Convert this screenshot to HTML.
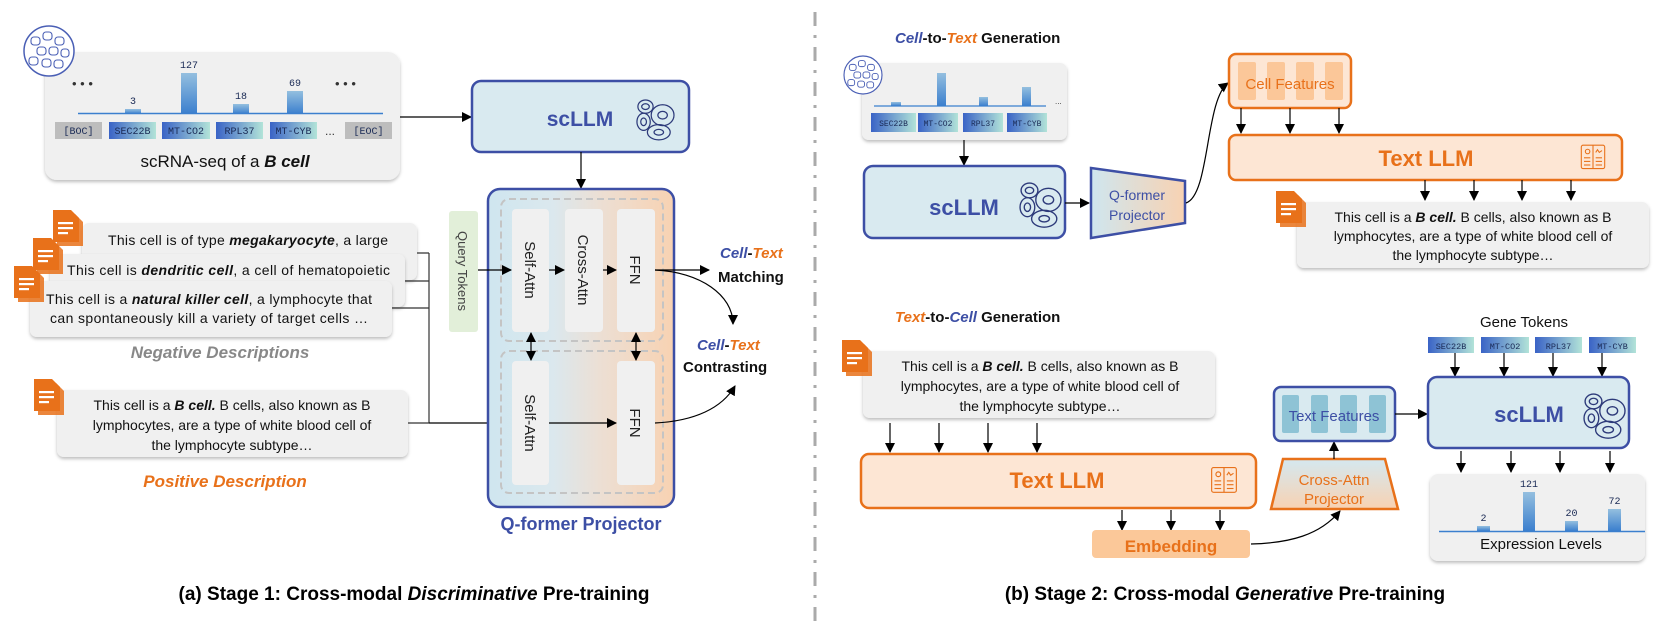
<!DOCTYPE html>
<html><head><meta charset="utf-8"><style>
html,body{margin:0;padding:0;background:#fff;}
svg{display:block;}
text{font-family:"Liberation Sans",Arial,sans-serif;}
.m{font-family:"Liberation Mono","DejaVu Sans Mono",monospace;font-size:10px;fill:#1a2a55;}
.b{font-size:14px;fill:#111;}
</style></head><body>
<svg width="1660" height="632" viewBox="0 0 1660 632" xmlns="http://www.w3.org/2000/svg">
<defs>
<linearGradient id="tok" x1="0" x2="1"><stop offset="0" stop-color="#3a63c6"/><stop offset="1" stop-color="#b2e3d8"/></linearGradient>
<linearGradient id="bar" x1="0" y1="0" x2="0" y2="1"><stop offset="0" stop-color="#94bfdf"/><stop offset="1" stop-color="#3b7fce"/></linearGradient>
<linearGradient id="qf" x1="0" x2="1"><stop offset="0" stop-color="#cfe6ef"/><stop offset="0.35" stop-color="#dbe8ee"/><stop offset="0.6" stop-color="#ecdfd4"/><stop offset="1" stop-color="#f8d2b2"/></linearGradient>
<linearGradient id="qp" x1="0" x2="1"><stop offset="0" stop-color="#cfe6ef"/><stop offset="1" stop-color="#f8d2b2"/></linearGradient>
<linearGradient id="ca" x1="0" y1="0" x2="0" y2="1"><stop offset="0" stop-color="#d4e8f0"/><stop offset="1" stop-color="#f8d2b2"/></linearGradient>
<marker id="ah" markerWidth="10" markerHeight="10" refX="9" refY="5" orient="auto" markerUnits="userSpaceOnUse"><path d="M0,0 L10,5 L0,10 z" fill="#000"/></marker>
<marker id="ah2" markerWidth="10" markerHeight="10" refX="9" refY="5" orient="auto-start-reverse" markerUnits="userSpaceOnUse"><path d="M0,0 L10,5 L0,10 z" fill="#000"/></marker>
<filter id="sh" x="-5%" y="-5%" width="110%" height="120%"><feDropShadow dx="0" dy="2" stdDeviation="1.5" flood-color="#000" flood-opacity="0.25"/></filter>
<g id="doc"><path d="M4,4 h18 l8,8 v24 h-26 z" fill="#e8711a" opacity="0.85"/><path d="M0,0 h18 l8,8 v24 h-26 z" fill="#e8711a"/><rect x="5" y="12" width="15" height="2.2" fill="#fff"/><rect x="5" y="17" width="15" height="2.2" fill="#fff"/><rect x="5" y="22" width="10" height="2.2" fill="#fff"/></g>
<g id="cells" fill="none" stroke="#2d3a7a" stroke-width="1.3"><ellipse cx="-10" cy="-12" rx="8" ry="7"/><ellipse cx="-10" cy="-12" rx="4" ry="3"/><ellipse cx="8" cy="-3" rx="12" ry="11"/><ellipse cx="8" cy="-3" rx="5" ry="4"/><ellipse cx="-12" cy="4" rx="7" ry="9"/><ellipse cx="-12" cy="4" rx="3" ry="4"/><ellipse cx="4" cy="15" rx="12" ry="8"/><ellipse cx="4" cy="15" rx="5" ry="3"/></g>
<g id="book" fill="none" stroke="#e8711a" stroke-width="1.2"><rect x="-13" y="-12" width="26" height="26" rx="2"/><line x1="0" y1="-12" x2="0" y2="14"/><line x1="-10" y1="2" x2="-3" y2="2"/><line x1="-10" y1="6" x2="-3" y2="6"/><line x1="-10" y1="10" x2="-3" y2="10"/><line x1="3" y1="2" x2="10" y2="2"/><line x1="3" y1="6" x2="10" y2="6"/><line x1="3" y1="10" x2="10" y2="10"/><circle cx="-6" cy="-5" r="2.5"/><path d="M3,-4 l2,-3 l2,3 l3,-2"/></g>
</defs>

<!-- ================= LEFT PANEL ================= -->
<rect x="45" y="52" width="355" height="128" rx="12" fill="#f0f0f0" filter="url(#sh)"/>
<g transform="translate(49,51)">
<circle r="25" fill="#fff" stroke="#4a5fb5" stroke-width="1.5"/>
<g fill="none" stroke="#4a5fb5" stroke-width="1.1">
<rect x="-18" y="-14" width="9" height="8" rx="3"/><rect x="-6" y="-19" width="9" height="8" rx="3"/><rect x="6" y="-14" width="9" height="8" rx="3"/><rect x="-12" y="-4" width="9" height="8" rx="3"/><rect x="0" y="-4" width="9" height="8" rx="3"/><rect x="12" y="-2" width="8" height="8" rx="3"/><rect x="-20" y="6" width="9" height="8" rx="3"/><rect x="-7" y="8" width="9" height="8" rx="3"/><rect x="5" y="9" width="9" height="8" rx="3"/>
</g></g>
<text x="72" y="88" font-size="13" fill="#333">• • •</text>
<text x="335" y="88" font-size="13" fill="#333">• • •</text>
<rect x="125" y="109" width="16" height="5" fill="url(#bar)"/><text x="133" y="104" class="m" text-anchor="middle" fill="#222">3</text>
<rect x="181" y="73" width="16" height="41" fill="url(#bar)"/><text x="189" y="68" class="m" text-anchor="middle" fill="#222">127</text>
<rect x="233" y="104" width="16" height="10" fill="url(#bar)"/><text x="241" y="99" class="m" text-anchor="middle" fill="#222">18</text>
<rect x="287" y="91" width="16" height="23" fill="url(#bar)"/><text x="295" y="86" class="m" text-anchor="middle" fill="#222">69</text>
<line x1="78" y1="113.5" x2="383" y2="113.5" stroke="#3b7fce" stroke-width="1.5"/>
<rect x="55" y="122" width="47" height="17" fill="#bdbdbd"/><text x="78.5" y="134" class="m" text-anchor="middle" fill="#333">[BOC]</text>
<rect x="109" y="122" width="47" height="17" fill="url(#tok)"/><text x="132.5" y="134" class="m" text-anchor="middle">SEC22B</text>
<rect x="162" y="122" width="48" height="17" fill="url(#tok)"/><text x="186" y="134" class="m" text-anchor="middle">MT-CO2</text>
<rect x="216" y="122" width="47" height="17" fill="url(#tok)"/><text x="239.5" y="134" class="m" text-anchor="middle">RPL37</text>
<rect x="270" y="122" width="47" height="17" fill="url(#tok)"/><text x="293.5" y="134" class="m" text-anchor="middle">MT-CYB</text>
<text x="325" y="135" font-size="12" fill="#333">...</text>
<rect x="345" y="122" width="47" height="17" fill="#bdbdbd"/><text x="368.5" y="134" class="m" text-anchor="middle" fill="#333">[EOC]</text>
<text x="225" y="167" font-size="17" text-anchor="middle" fill="#111">scRNA-seq of a <tspan font-weight="bold" font-style="italic">B cell</tspan></text>

<line x1="400" y1="117" x2="471" y2="117" stroke="#000" stroke-width="1.2" marker-end="url(#ah)"/>
<rect x="472" y="81" width="217" height="71" rx="9" fill="#d9eaf0" stroke="#3d4fa5" stroke-width="2.5"/>
<text x="580" y="126" font-size="21" font-weight="bold" fill="#3d4fa5" text-anchor="middle">scLLM</text>
<use href="#cells" transform="translate(655,118) scale(0.95)"/>
<line x1="581" y1="152" x2="581" y2="188" stroke="#000" stroke-width="1.2" marker-end="url(#ah)"/>

<rect x="82" y="223" width="335" height="57" rx="7" fill="#f0f0f0" filter="url(#sh)"/>
<text x="108" y="245" class="b" textLength="280">This cell is of type <tspan font-weight="bold" font-style="italic">megakaryocyte</tspan>, a large</text>
<use href="#doc" transform="translate(53,210)"/>
<rect x="50" y="254" width="355" height="53" rx="7" fill="#f0f0f0" filter="url(#sh)"/>
<text x="67" y="275" class="b" textLength="323">This cell is  <tspan font-weight="bold" font-style="italic">dendritic cell</tspan>, a cell of hematopoietic</text>
<use href="#doc" transform="translate(33,238)"/>
<rect x="30" y="281" width="362" height="56" rx="7" fill="#f0f0f0" filter="url(#sh)"/>
<text x="46" y="304" class="b" textLength="326">This cell is a <tspan font-weight="bold" font-style="italic">natural killer cell</tspan>, a lymphocyte that</text>
<text x="50" y="323" class="b" textLength="318">can spontaneously kill a variety of target cells …</text>
<use href="#doc" transform="translate(14,266)"/>
<text x="220" y="358" font-size="17" font-weight="bold" font-style="italic" fill="#888" text-anchor="middle">Negative Descriptions</text>

<rect x="57" y="390" width="351" height="67" rx="7" fill="#f0f0f0" filter="url(#sh)"/>
<text x="232" y="410" class="b" text-anchor="middle">This cell is a <tspan font-weight="bold" font-style="italic">B cell.</tspan> B cells, also known as B</text>
<text x="232" y="430" class="b" text-anchor="middle">lymphocytes, are a type of white blood cell of</text>
<text x="232" y="450" class="b" text-anchor="middle">the lymphocyte subtype…</text>
<use href="#doc" transform="translate(34,379)"/>
<text x="225" y="487" font-size="17" font-weight="bold" font-style="italic" fill="#e8711a" text-anchor="middle">Positive Description</text>

<g stroke="#333" stroke-width="1.2" fill="none">
<path d="M417,253 H429 M405,281 H429 M392,308 H429 M429,253 V423 M408,423 H429"/>
</g>
<line x1="429" y1="423" x2="511" y2="423" stroke="#000" stroke-width="1.2" marker-end="url(#ah)"/>

<rect x="449" y="211" width="29" height="121" rx="3" fill="#e2efd9"/>
<text transform="translate(458,271) rotate(90)" font-size="13" fill="#444" text-anchor="middle">Query Tokens</text>
<rect x="488" y="189" width="186" height="318" rx="12" fill="url(#qf)" stroke="#3d4fa5" stroke-width="2.5"/>
<rect x="501" y="199" width="162" height="142" rx="8" fill="none" stroke="#c4c4c4" stroke-width="2" stroke-dasharray="7,4"/>
<rect x="501" y="351" width="162" height="142" rx="8" fill="none" stroke="#c4c4c4" stroke-width="2" stroke-dasharray="7,4"/>
<g fill="#f0f0f0">
<rect x="512" y="209" width="37" height="123" rx="4"/><rect x="565" y="209" width="38" height="123" rx="4"/><rect x="617" y="209" width="38" height="123" rx="4"/>
<rect x="512" y="361" width="37" height="124" rx="4"/><rect x="617" y="361" width="38" height="124" rx="4"/>
</g>
<g font-size="15" fill="#222" text-anchor="middle">
<text transform="translate(525,270) rotate(90)">Self-Attn</text>
<text transform="translate(578,270) rotate(90)">Cross-Attn</text>
<text transform="translate(630,270) rotate(90)">FFN</text>
<text transform="translate(525,423) rotate(90)">Self-Attn</text>
<text transform="translate(630,423) rotate(90)">FFN</text>
</g>
<g stroke="#000" stroke-width="1.2" fill="none">
<line x1="478" y1="270" x2="511" y2="270" marker-end="url(#ah)"/>
<line x1="549" y1="270" x2="564" y2="270" marker-end="url(#ah)"/>
<line x1="603" y1="270" x2="616" y2="270" marker-end="url(#ah)"/>
<line x1="549" y1="423" x2="616" y2="423" marker-end="url(#ah)"/>
<line x1="531" y1="333" x2="531" y2="360" marker-start="url(#ah2)" marker-end="url(#ah2)"/>
<line x1="636" y1="333" x2="636" y2="360" marker-start="url(#ah2)" marker-end="url(#ah2)"/>
<line x1="655" y1="270" x2="709" y2="270" marker-end="url(#ah)"/>
<path d="M655,270 C700,272 733,295 733,324" marker-end="url(#ah)"/>
<path d="M655,423 C695,421 722,408 735,386" marker-end="url(#ah)"/>
</g>
<g font-size="15" font-weight="bold">
<text x="720" y="258"><tspan fill="#3d4fa5" font-style="italic">Cell</tspan><tspan fill="#111">-</tspan><tspan fill="#e8711a" font-style="italic">Text</tspan></text>
<text x="718" y="282" fill="#111">Matching</text>
<text x="697" y="350"><tspan fill="#3d4fa5" font-style="italic">Cell</tspan><tspan fill="#111">-</tspan><tspan fill="#e8711a" font-style="italic">Text</tspan></text>
<text x="683" y="372" fill="#111">Contrasting</text>
</g>
<text x="581" y="530" font-size="18" font-weight="bold" fill="#3d4fa5" text-anchor="middle">Q-former Projector</text>
<text x="414" y="600" font-size="19" font-weight="bold" fill="#000" text-anchor="middle">(a) Stage 1: Cross-modal <tspan font-style="italic">Discriminative</tspan> Pre-training</text>

<line x1="815" y1="12" x2="815" y2="625" stroke="#aaa" stroke-width="3" stroke-dasharray="14,9,3,9"/>

<!-- ================= RIGHT TOP ================= -->
<text x="895" y="43" font-size="15" font-weight="bold"><tspan fill="#3d4fa5" font-style="italic">Cell</tspan><tspan fill="#111">-to-</tspan><tspan fill="#e8711a" font-style="italic">Text</tspan><tspan fill="#111"> Generation</tspan></text>
<rect x="862" y="63" width="205" height="77" rx="7" fill="#f0f0f0" filter="url(#sh)"/>
<g transform="translate(863,75) scale(0.76)">
<circle r="25" fill="#fff" stroke="#4a5fb5" stroke-width="1.5"/>
<g fill="none" stroke="#4a5fb5" stroke-width="1.2">
<rect x="-18" y="-14" width="9" height="8" rx="3"/><rect x="-6" y="-19" width="9" height="8" rx="3"/><rect x="6" y="-14" width="9" height="8" rx="3"/><rect x="-12" y="-4" width="9" height="8" rx="3"/><rect x="0" y="-4" width="9" height="8" rx="3"/><rect x="12" y="-2" width="8" height="8" rx="3"/><rect x="-20" y="6" width="9" height="8" rx="3"/><rect x="-7" y="8" width="9" height="8" rx="3"/><rect x="5" y="9" width="9" height="8" rx="3"/>
</g></g>
<rect x="891" y="102" width="10" height="4" fill="url(#bar)"/>
<rect x="937" y="73" width="9" height="33" fill="url(#bar)"/>
<rect x="979" y="97" width="9" height="9" fill="url(#bar)"/>
<rect x="1022" y="87" width="9" height="19" fill="url(#bar)"/>
<line x1="874" y1="106" x2="1046" y2="106" stroke="#3b7fce" stroke-width="1.3"/>
<text x="1055" y="104" font-size="8" fill="#333">...</text>
<rect x="871" y="113" width="45" height="19" fill="url(#tok)"/><text x="893.5" y="126" class="m" style="font-size:8px" text-anchor="middle">SEC22B</text>
<rect x="918" y="113" width="40" height="19" fill="url(#tok)"/><text x="938" y="126" class="m" style="font-size:8px" text-anchor="middle">MT-CO2</text>
<rect x="963" y="113" width="40" height="19" fill="url(#tok)"/><text x="983" y="126" class="m" style="font-size:8px" text-anchor="middle">RPL37</text>
<rect x="1007" y="113" width="40" height="19" fill="url(#tok)"/><text x="1027" y="126" class="m" style="font-size:8px" text-anchor="middle">MT-CYB</text>
<line x1="964" y1="140" x2="964" y2="165" stroke="#000" stroke-width="1.2" marker-end="url(#ah)"/>
<rect x="864" y="166" width="201" height="72" rx="9" fill="#d9eaf0" stroke="#3d4fa5" stroke-width="2.5"/>
<text x="964" y="215" font-size="22" font-weight="bold" fill="#3d4fa5" text-anchor="middle">scLLM</text>
<use href="#cells" transform="translate(1040,203) scale(1.05)"/>
<line x1="1065" y1="203" x2="1089" y2="203" stroke="#000" stroke-width="1.2" marker-end="url(#ah)"/>
<path d="M1091,168 L1185,181 L1185,223 L1091,238 Z" fill="url(#qp)" stroke="#3d4fa5" stroke-width="2.5"/>
<text x="1137" y="200" font-size="14" fill="#3d4fa5" text-anchor="middle">Q-former</text>
<text x="1137" y="220" font-size="14" fill="#3d4fa5" text-anchor="middle">Projector</text>
<path d="M1186,203 C1210,195 1205,100 1228,83" fill="none" stroke="#000" stroke-width="1.2" marker-end="url(#ah)"/>

<rect x="1229" y="54" width="122" height="54" rx="7" fill="#fde6d4" stroke="#e8711a" stroke-width="2.5"/>
<g fill="#fbc799"><rect x="1238" y="62" width="18" height="38" rx="2"/><rect x="1267" y="62" width="18" height="38" rx="2"/><rect x="1296" y="62" width="18" height="38" rx="2"/><rect x="1325" y="62" width="18" height="38" rx="2"/></g>
<text x="1290" y="89" font-size="15" fill="#e8711a" text-anchor="middle">Cell Features</text>
<g stroke="#000" stroke-width="1.2">
<line x1="1241" y1="108" x2="1241" y2="133" marker-end="url(#ah)"/>
<line x1="1290" y1="108" x2="1290" y2="133" marker-end="url(#ah)"/>
<line x1="1339" y1="108" x2="1339" y2="133" marker-end="url(#ah)"/>
</g>
<rect x="1229" y="135" width="393" height="45" rx="7" fill="#fde6d4" stroke="#e8711a" stroke-width="2.5"/>
<text x="1426" y="166" font-size="22" font-weight="bold" fill="#e8711a" text-anchor="middle">Text LLM</text>
<use href="#book" transform="translate(1593,156) scale(0.9)"/>
<g stroke="#000" stroke-width="1.2">
<line x1="1425" y1="180" x2="1425" y2="200" marker-end="url(#ah)"/>
<line x1="1474" y1="180" x2="1474" y2="200" marker-end="url(#ah)"/>
<line x1="1522" y1="180" x2="1522" y2="200" marker-end="url(#ah)"/>
<line x1="1571" y1="180" x2="1571" y2="200" marker-end="url(#ah)"/>
</g>
<rect x="1297" y="202" width="352" height="66" rx="7" fill="#f0f0f0" filter="url(#sh)"/>
<text x="1473" y="222" class="b" text-anchor="middle">This cell is a <tspan font-weight="bold" font-style="italic">B cell.</tspan> B cells, also known as B</text>
<text x="1473" y="241" class="b" text-anchor="middle">lymphocytes, are a type of white blood cell of</text>
<text x="1473" y="260" class="b" text-anchor="middle">the lymphocyte subtype…</text>
<use href="#doc" transform="translate(1276,191)"/>

<!-- ================= RIGHT BOTTOM ================= -->
<text x="895" y="322" font-size="15" font-weight="bold"><tspan fill="#e8711a" font-style="italic">Text</tspan><tspan fill="#111">-to-</tspan><tspan fill="#3d4fa5" font-style="italic">Cell</tspan><tspan fill="#111"> Generation</tspan></text>
<rect x="863" y="351" width="352" height="67" rx="7" fill="#f0f0f0" filter="url(#sh)"/>
<text x="1040" y="371" class="b" text-anchor="middle">This cell is a <tspan font-weight="bold" font-style="italic">B cell.</tspan> B cells, also known as B</text>
<text x="1040" y="391" class="b" text-anchor="middle">lymphocytes, are a type of white blood cell of</text>
<text x="1040" y="411" class="b" text-anchor="middle">the lymphocyte subtype…</text>
<use href="#doc" transform="translate(842,340)"/>
<g stroke="#000" stroke-width="1.2">
<line x1="890" y1="423" x2="890" y2="452" marker-end="url(#ah)"/>
<line x1="939" y1="423" x2="939" y2="452" marker-end="url(#ah)"/>
<line x1="988" y1="423" x2="988" y2="452" marker-end="url(#ah)"/>
<line x1="1037" y1="423" x2="1037" y2="452" marker-end="url(#ah)"/>
</g>
<rect x="861" y="454" width="395" height="54" rx="8" fill="#fde6d4" stroke="#e8711a" stroke-width="2.5"/>
<text x="1057" y="488" font-size="22" font-weight="bold" fill="#e8711a" text-anchor="middle">Text LLM</text>
<use href="#book" transform="translate(1224,479) scale(0.95)"/>
<g stroke="#000" stroke-width="1.2">
<line x1="1122" y1="510" x2="1122" y2="530" marker-end="url(#ah)"/>
<line x1="1171" y1="510" x2="1171" y2="530" marker-end="url(#ah)"/>
<line x1="1220" y1="510" x2="1220" y2="530" marker-end="url(#ah)"/>
</g>
<rect x="1092" y="530" width="158" height="28" rx="4" fill="#fbc899"/>
<text x="1171" y="552" font-size="17" font-weight="bold" fill="#e8711a" text-anchor="middle">Embedding</text>
<path d="M1251,544 C1290,543 1320,535 1340,511" fill="none" stroke="#000" stroke-width="1.2" marker-end="url(#ah)"/>
<path d="M1283,459 L1385,459 L1398,509 L1271,509 Z" fill="url(#ca)" stroke="#e8711a" stroke-width="2.5"/>
<text x="1334" y="485" font-size="15" fill="#e8711a" text-anchor="middle">Cross-Attn</text>
<text x="1334" y="504" font-size="15" fill="#e8711a" text-anchor="middle">Projector</text>
<line x1="1334" y1="459" x2="1334" y2="442" stroke="#000" stroke-width="1.2" marker-end="url(#ah)"/>
<rect x="1274" y="387" width="121" height="54" rx="7" fill="#d9eaf0" stroke="#3d4fa5" stroke-width="2.5"/>
<g fill="#8ec3d5"><rect x="1282" y="395" width="17" height="38" rx="2"/><rect x="1311" y="395" width="17" height="38" rx="2"/><rect x="1340" y="395" width="17" height="38" rx="2"/><rect x="1369" y="395" width="17" height="38" rx="2"/></g>
<text x="1334" y="421" font-size="15" fill="#3d4fa5" text-anchor="middle">Text Features</text>
<line x1="1395" y1="414" x2="1427" y2="414" stroke="#000" stroke-width="1.2" marker-end="url(#ah)"/>

<text x="1524" y="327" font-size="15" fill="#111" text-anchor="middle">Gene Tokens</text>
<rect x="1428" y="337" width="46" height="16" fill="url(#tok)"/><text x="1451" y="349" class="m" style="font-size:8.5px" text-anchor="middle">SEC22B</text>
<rect x="1481" y="337" width="48" height="16" fill="url(#tok)"/><text x="1505" y="349" class="m" style="font-size:8.5px" text-anchor="middle">MT-CO2</text>
<rect x="1535" y="337" width="47" height="16" fill="url(#tok)"/><text x="1558.5" y="349" class="m" style="font-size:8.5px" text-anchor="middle">RPL37</text>
<rect x="1589" y="337" width="47" height="16" fill="url(#tok)"/><text x="1612.5" y="349" class="m" style="font-size:8.5px" text-anchor="middle">MT-CYB</text>
<g stroke="#000" stroke-width="1.2">
<line x1="1455" y1="353" x2="1455" y2="376" marker-end="url(#ah)"/>
<line x1="1504" y1="353" x2="1504" y2="376" marker-end="url(#ah)"/>
<line x1="1553" y1="353" x2="1553" y2="376" marker-end="url(#ah)"/>
<line x1="1602" y1="353" x2="1602" y2="376" marker-end="url(#ah)"/>
<line x1="1461" y1="451" x2="1461" y2="472" marker-end="url(#ah)"/>
<line x1="1511" y1="451" x2="1511" y2="472" marker-end="url(#ah)"/>
<line x1="1560" y1="451" x2="1560" y2="472" marker-end="url(#ah)"/>
<line x1="1610" y1="451" x2="1610" y2="472" marker-end="url(#ah)"/>
</g>
<rect x="1428" y="377" width="201" height="71" rx="9" fill="#d9eaf0" stroke="#3d4fa5" stroke-width="2.5"/>
<text x="1529" y="422" font-size="22" font-weight="bold" fill="#3d4fa5" text-anchor="middle">scLLM</text>
<use href="#cells" transform="translate(1604,414) scale(1.05)"/>

<rect x="1430" y="474" width="215" height="87" rx="8" fill="#f0f0f0" filter="url(#sh)"/>
<rect x="1477" y="526" width="13" height="5" fill="url(#bar)"/><text x="1483.5" y="521" class="m" fill="#222" text-anchor="middle">2</text>
<rect x="1523" y="492" width="12" height="39" fill="url(#bar)"/><text x="1529" y="487" class="m" fill="#222" text-anchor="middle">121</text>
<rect x="1565" y="521" width="13" height="10" fill="url(#bar)"/><text x="1571.5" y="516" class="m" fill="#222" text-anchor="middle">20</text>
<rect x="1608" y="509" width="13" height="22" fill="url(#bar)"/><text x="1614.5" y="504" class="m" fill="#222" text-anchor="middle">72</text>
<line x1="1439" y1="531.5" x2="1645" y2="531.5" stroke="#3b7fce" stroke-width="1.5"/>
<text x="1541" y="549" font-size="15" fill="#111" text-anchor="middle">Expression Levels</text>

<text x="1225" y="600" font-size="19" font-weight="bold" fill="#000" text-anchor="middle">(b) Stage 2: Cross-modal <tspan font-style="italic">Generative</tspan> Pre-training</text>
</svg>
</body></html>
